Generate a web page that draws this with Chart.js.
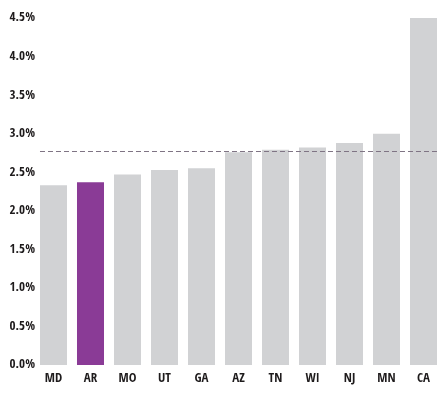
<!DOCTYPE html>
<html>
<head>
<meta charset="utf-8">
<script src="https://cdn.jsdelivr.net/npm/chart.js@4/dist/chart.umd.min.js"></script>
<style>
  html, body { margin: 0; padding: 0; background: #ffffff; }
  #wrap { width: 447px; height: 393px; }
</style>
</head>
<body>
<div id="wrap"><canvas id="c" width="447" height="393"></canvas></div>
<script>
const categories = ['MD', 'AR', 'MO', 'UT', 'GA', 'AZ', 'TN', 'WI', 'NJ', 'MN', 'CA'];
const values = [2.33, 2.37, 2.47, 2.53, 2.55, 2.76, 2.79, 2.82, 2.88, 3.00, 4.50];
const referenceValue = 2.775;
const highlighted = 'AR';
const yTicks = [0, 0.5, 1.0, 1.5, 2.0, 2.5, 3.0, 3.5, 4.0, 4.5];

const GRAY = '#d1d2d4';
const PURPLE = '#8a3b96';
const FONT = { family: '"Open Sans Condensed", "Roboto Condensed", "Liberation Sans", sans-serif', size: 13, weight: 'bold' };

const refLine = {
  id: 'refLine',
  afterDatasetsDraw(chart) {
    const meta = chart.getDatasetMeta(0);
    const first = meta.data[0], last = meta.data[meta.data.length - 1];
    const x1 = first.x - first.width / 2;
    const x2 = last.x + last.width / 2;
    const y = Math.round(chart.scales.y.getPixelForValue(referenceValue)) + 0.5;
    const ctx = chart.ctx;
    ctx.save();
    ctx.strokeStyle = '#7f7484';
    ctx.lineWidth = 1;
    ctx.setLineDash([5, 3]);
    ctx.beginPath();
    ctx.moveTo(x1, y);
    ctx.lineTo(x2, y);
    ctx.stroke();
    ctx.restore();
  }
};

new Chart(document.getElementById('c'), {
  type: 'bar',
  data: {
    labels: categories,
    datasets: [{
      data: values,
      backgroundColor: categories.map(c => c === highlighted ? PURPLE : GRAY),
      borderWidth: 0,
      barPercentage: 0.73,
      categoryPercentage: 1.0
    }]
  },
  options: {
    responsive: false,
    animation: false,
    devicePixelRatio: 1,
    layout: { padding: { top: 18, right: 5, left: 0, bottom: 0 } },
    plugins: { legend: { display: false }, tooltip: { enabled: false } },
    scales: {
      x: {
        grid: { display: false, drawTicks: false },
        border: { display: false },
        ticks: { color: '#1e1b1c', font: FONT, padding: 6, maxRotation: 0 },
        afterFit(scale) { scale.height = 28; }
      },
      y: {
        min: 0,
        max: 4.5,
        grid: { display: false, drawTicks: false },
        border: { display: false },
        afterBuildTicks(scale) { scale.ticks = yTicks.map(v => ({ value: v })); },
        ticks: {
          color: '#1e1b1c',
          font: FONT,
          padding: 0,
          callback: v => Number(v).toFixed(1) + '%'
        },
        afterFit(scale) { scale.width = 35; }
      }
    }
  },
  plugins: [refLine]
});
</script>
</body>
</html>
